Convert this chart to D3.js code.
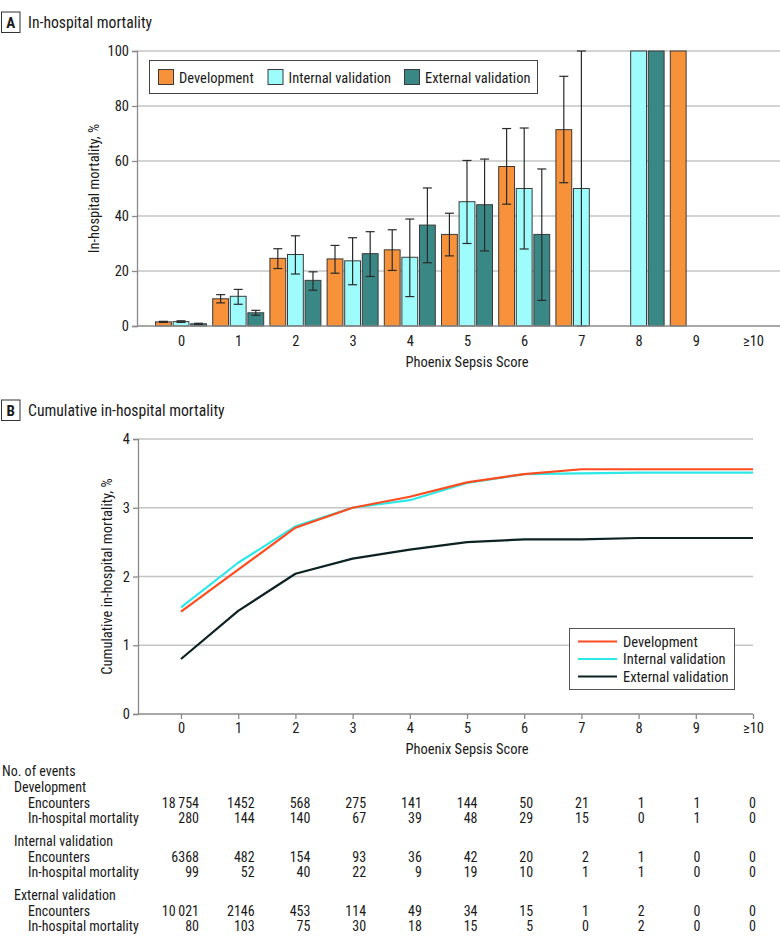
<!DOCTYPE html>
<html>
<head>
<meta charset="utf-8">
<script src="https://cdn.jsdelivr.net/npm/d3@7"></script>
<style>
  html, body { margin: 0; padding: 0; background: #fff; }
  svg { display: block; }
  text { font-family: "Liberation Sans Narrow", "Roboto Condensed", "Arial Narrow", "Noto Sans", sans-serif; fill: #1a1a1a; }
</style>
</head>
<body>
<script>
// ---------- DATA ----------
const categories = ["0", "1", "2", "3", "4", "5", "6", "7", "8", "9", "≥10"];
const seriesNames = ["Development", "Internal validation", "External validation"];

// Panel A: in-hospital mortality, % (with 95% CI)
const devRate = [1.5, 9.9, 24.6, 24.4, 27.7, 33.3, 58.0, 71.4, 0, 100, null];
const devLow  = [1.3, 8.4, 20.9, 19.2, 20.2, 25.5, 44.3, 52.1, null, null, null];
const devHigh = [1.7, 11.4, 28.1, 29.3, 35.0, 41.0, 71.8, 90.8, null, null, null];

const intRate = [1.6, 10.8, 26.0, 23.7, 25.0, 45.2, 50.0, 50.0, 100, null, null];
const intLow  = [1.3, 7.9, 18.9, 15.0, 10.7, 30.0, 28.0, 0, null, null, null];
const intHigh = [1.9, 13.3, 32.8, 32.1, 38.9, 60.2, 72.0, 100, null, null, null];

const extRate = [0.8, 4.8, 16.6, 26.3, 36.7, 44.1, 33.3, 0, 100, null, null];
const extLow  = [0.6, 3.9, 13.0, 18.0, 23.0, 27.3, 9.3, null, null, null, null];
const extHigh = [1.0, 5.7, 19.7, 34.3, 50.2, 60.7, 57.1, null, null, null, null];

const yTicksA = [0, 20, 40, 60, 80, 100];

// Panel B: cumulative in-hospital mortality, %
const devCum = [1.49, 2.10, 2.71, 3.00, 3.16, 3.37, 3.49, 3.56, 3.56, 3.56, 3.56];
const intCum = [1.55, 2.20, 2.73, 3.00, 3.11, 3.36, 3.49, 3.50, 3.51, 3.51, 3.51];
const extCum = [0.80, 1.50, 2.04, 2.26, 2.39, 2.50, 2.54, 2.54, 2.56, 2.56, 2.56];
const yTicksB = [0, 1, 2, 3, 4];

// Table: number of events
const devEncounters = ["18\u2009754", "1452", "568", "275", "141", "144", "50", "21", "1", "1", "0"];
const devDeaths     = ["280", "144", "140", "67", "39", "48", "29", "15", "0", "1", "0"];
const intEncounters = ["6368", "482", "154", "93", "36", "42", "20", "2", "1", "0", "0"];
const intDeaths     = ["99", "52", "40", "22", "9", "19", "10", "1", "1", "0", "0"];
const extEncounters = ["10\u2009021", "2146", "453", "114", "49", "34", "15", "1", "2", "0", "0"];
const extDeaths     = ["80", "103", "75", "30", "18", "15", "5", "0", "2", "0", "0"];

// ---------- STYLE ----------
const barColors  = ["#F7923A", "#9EFCFC", "#3A8886"];
const lineColors = ["#FF4B1E", "#2CE8E8", "#0D2222"];
const gridColor = "#C4C4C4";
const axisColor = "#8A8A8A";
const FS = 14.5;

const W = 780, H = 944;
const svg = d3.select("body").append("svg").attr("width", W).attr("height", H);

function panelTitle(letter, title, y) {
  const g = svg.append("g");
  g.append("rect").attr("x", 1.5).attr("y", y - 10.5).attr("width", 18.5).attr("height", 20.5)
    .attr("fill", "none").attr("stroke", "#333").attr("stroke-width", 1);
  g.append("text").attr("x", 10.7).attr("y", y + 5.5).attr("text-anchor", "middle")
    .attr("font-weight", "bold").attr("font-size", 15).text(letter);
  g.append("text").attr("x", 28).attr("y", y + 5.5).attr("font-size", 15.7).text(title);
}

// ---------- PANEL A ----------
panelTitle("A", "In-hospital mortality", 22.5);

const xA = d3.scalePoint().domain(categories).range([181, 753]);
const yA = d3.scaleLinear().domain([0, 100]).range([326, 51]);
const xSub = d3.scaleBand().domain(seriesNames).range([-25.5, 25.5]).paddingInner(0.1);

const gA = svg.append("g");
gA.selectAll("line.grid").data(yTicksA.filter(d => d > 0)).join("line")
  .attr("x1", 137).attr("x2", W).attr("y1", d => yA(d)).attr("y2", d => yA(d))
  .attr("stroke", gridColor).attr("stroke-width", 1.3);

const yAxisA = gA.append("g").attr("transform", "translate(137,0)")
  .call(d3.axisLeft(yA).tickValues(yTicksA).tickSize(5).tickPadding(3));
yAxisA.select(".domain").attr("stroke", axisColor).attr("stroke-width", 1.3);
yAxisA.selectAll(".tick line").attr("stroke", axisColor).attr("stroke-width", 1.3);
yAxisA.selectAll("text").attr("font-size", FS).attr("font-family", null).attr("fill", "#1a1a1a");

const barSeries = [
  { name: seriesNames[0], rate: devRate, low: devLow, high: devHigh, color: barColors[0] },
  { name: seriesNames[1], rate: intRate, low: intLow, high: intHigh, color: barColors[1] },
  { name: seriesNames[2], rate: extRate, low: extLow, high: extHigh, color: barColors[2] }
];
barSeries.forEach(s => {
  const pts = categories.map((c, i) => ({ c, v: s.rate[i], lo: s.low[i], hi: s.high[i] }));
  gA.append("g").selectAll("rect").data(pts.filter(p => p.v != null && p.v > 0)).join("rect")
    .attr("x", p => xA(p.c) + xSub(s.name))
    .attr("width", xSub.bandwidth())
    .attr("y", p => yA(p.v))
    .attr("height", p => yA(0) - yA(p.v))
    .attr("fill", s.color).attr("stroke", "#3a3a3a").attr("stroke-width", 1);
  const eb = gA.append("g").attr("stroke", "#2a2a2a").attr("stroke-width", 1.2);
  const ci = pts.filter(p => p.lo != null && p.hi != null);
  const cx = p => xA(p.c) + xSub(s.name) + xSub.bandwidth() / 2;
  eb.selectAll("line.v").data(ci).join("line")
    .attr("x1", cx).attr("x2", cx).attr("y1", p => yA(p.lo)).attr("y2", p => yA(p.hi));
  eb.selectAll("line.t").data(ci).join("line")
    .attr("x1", p => cx(p) - 4.5).attr("x2", p => cx(p) + 4.5).attr("y1", p => yA(p.hi)).attr("y2", p => yA(p.hi));
  eb.selectAll("line.b").data(ci).join("line")
    .attr("x1", p => cx(p) - 4.5).attr("x2", p => cx(p) + 4.5).attr("y1", p => yA(p.lo)).attr("y2", p => yA(p.lo));
});

gA.append("line").attr("x1", 137).attr("x2", W).attr("y1", yA(0)).attr("y2", yA(0))
  .attr("stroke", axisColor).attr("stroke-width", 1.3);
const xAxisA = gA.append("g").attr("transform", `translate(0,${yA(0)})`)
  .call(d3.axisBottom(xA).tickSize(0).tickPadding(10));
xAxisA.select(".domain").remove();
xAxisA.selectAll("text").attr("font-size", FS).attr("font-family", null).attr("fill", "#1a1a1a");

gA.append("text").attr("x", xA("5")).attr("y", 367).attr("text-anchor", "middle")
  .attr("font-size", FS).text("Phoenix Sepsis Score");
gA.append("text").attr("transform", `translate(99,${(yA(0) + yA(100)) / 2}) rotate(-90)`)
  .attr("text-anchor", "middle").attr("font-size", FS).text("In-hospital mortality, %");

const legA = gA.append("g");
legA.append("rect").attr("x", 149.5).attr("y", 60.5).attr("width", 388).attr("height", 33)
  .attr("fill", "#fff").attr("stroke", "#444").attr("stroke-width", 1);
const legAX = [158, 267.5, 404];
seriesNames.forEach((n, i) => {
  legA.append("rect").attr("x", legAX[i] + 0.5).attr("y", 69.5).attr("width", 15).attr("height", 15)
    .attr("fill", barColors[i]).attr("stroke", "#3a3a3a").attr("stroke-width", 1);
  legA.append("text").attr("x", legAX[i] + 21).attr("y", 82.5).attr("font-size", FS).text(n);
});

// ---------- PANEL B ----------
panelTitle("B", "Cumulative in-hospital mortality", 410.5);

const xB = d3.scalePoint().domain(categories).range([181, 753]);
const yB = d3.scaleLinear().domain([0, 4]).range([714, 439]);
const gB = svg.append("g");

gB.selectAll("line.grid").data(yTicksB.filter(d => d > 0)).join("line")
  .attr("x1", 138).attr("x2", 753).attr("y1", d => yB(d)).attr("y2", d => yB(d))
  .attr("stroke", gridColor).attr("stroke-width", 1.3);

const yAxisB = gB.append("g").attr("transform", "translate(138,0)")
  .call(d3.axisLeft(yB).tickValues(yTicksB).tickFormat(d3.format("d")).tickSize(5).tickPadding(3));
yAxisB.select(".domain").attr("stroke", axisColor).attr("stroke-width", 1.3);
yAxisB.selectAll(".tick line").attr("stroke", axisColor).attr("stroke-width", 1.3);
yAxisB.selectAll("text").attr("font-size", FS).attr("font-family", null).attr("fill", "#1a1a1a");

gB.append("line").attr("x1", 138).attr("x2", 753).attr("y1", yB(0)).attr("y2", yB(0))
  .attr("stroke", axisColor).attr("stroke-width", 1.3);
const xAxisB = gB.append("g").attr("transform", `translate(0,${yB(0)})`)
  .call(d3.axisBottom(xB).tickSize(5).tickPadding(4));
xAxisB.select(".domain").remove();
xAxisB.selectAll(".tick line").attr("stroke", axisColor).attr("stroke-width", 1.3);
xAxisB.selectAll("text").attr("font-size", FS).attr("font-family", null).attr("fill", "#1a1a1a");

const lineGen = d3.line().x((d, i) => xB(categories[i])).y(d => yB(d));
[extCum, intCum, devCum].forEach((arr, k) => {
  const ci = [2, 1, 0][k];
  gB.append("path").datum(arr).attr("d", lineGen).attr("fill", "none")
    .attr("stroke", lineColors[ci]).attr("stroke-width", 2.2).attr("stroke-linejoin", "round");
});

gB.append("text").attr("x", xB("5")).attr("y", 754).attr("text-anchor", "middle")
  .attr("font-size", FS).text("Phoenix Sepsis Score");
gB.append("text").attr("transform", `translate(112,${(yB(0) + yB(4)) / 2}) rotate(-90)`)
  .attr("text-anchor", "middle").attr("font-size", FS).text("Cumulative in-hospital mortality, %");

const legB = gB.append("g");
legB.append("rect").attr("x", 569.5).attr("y", 628.5).attr("width", 165).attr("height", 61)
  .attr("fill", "#fff").attr("stroke", "#555").attr("stroke-width", 1);
seriesNames.forEach((n, i) => {
  const y = 641.5 + i * 17.5;
  legB.append("line").attr("x1", 578).attr("x2", 617).attr("y1", y).attr("y2", y)
    .attr("stroke", lineColors[i]).attr("stroke-width", 2.2);
  legB.append("text").attr("x", 623).attr("y", y + 5).attr("font-size", FS).text(n);
});

// ---------- TABLE ----------
const colX = d3.scalePoint().domain(categories).range([199, 756]);
const tableRows = [
  { label: "No. of events", indent: 2, y: 776 },
  { label: "Development", indent: 14, y: 791.5 },
  { label: "Encounters", indent: 28, y: 807.5, vals: devEncounters },
  { label: "In-hospital mortality", indent: 28, y: 823, vals: devDeaths },
  { label: "Internal validation", indent: 14, y: 845.5 },
  { label: "Encounters", indent: 28, y: 862, vals: intEncounters },
  { label: "In-hospital mortality", indent: 28, y: 877, vals: intDeaths },
  { label: "External validation", indent: 14, y: 899.5 },
  { label: "Encounters", indent: 28, y: 915.5, vals: extEncounters },
  { label: "In-hospital mortality", indent: 28, y: 931, vals: extDeaths }
];
const gT = svg.append("g");
tableRows.forEach(r => {
  gT.append("text").attr("x", r.indent).attr("y", r.y).attr("font-size", 14).text(r.label);
  if (r.vals) {
    gT.selectAll(null).data(r.vals).join("text")
      .attr("x", (d, i) => colX(categories[i])).attr("y", r.y)
      .attr("text-anchor", "end").attr("font-size", 14).text(d => d);
  }
});
</script>
</body>
</html>
